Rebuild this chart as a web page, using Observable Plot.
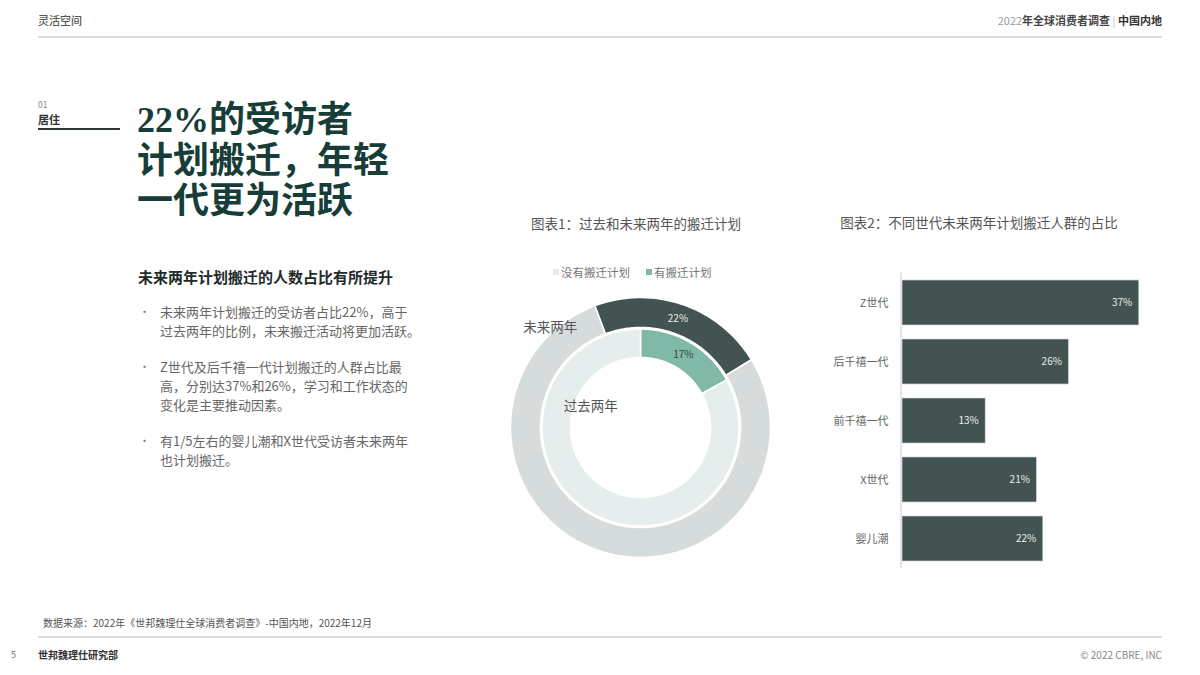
<!DOCTYPE html>
<html>
<head>
<meta charset="utf-8">
<script src="https://cdn.jsdelivr.net/npm/d3@7"></script>
<script src="https://cdn.jsdelivr.net/npm/@observablehq/plot@0.6"></script>
<style>
  html, body { margin: 0; padding: 0; }
  body { width: 1200px; height: 675px; background: #fff; position: relative; overflow: hidden;
         font-family: "Noto Sans CJK SC", "Noto Sans", sans-serif; color: #444; }
  .abs { position: absolute; white-space: nowrap; }
  .hline { position: absolute; height: 2px; background: #dcdce0; }
  #title { left: 137px; top: 100px; font-size: 36px; line-height: 40.5px; font-weight: 700; color: #173d38;
           font-family: "Liberation Serif", "Noto Sans CJK SC", serif; }
  #sub { left: 138px; top: 266px; font-size: 15px; line-height: 22px; font-weight: 700; color: #1e2b2a; }
  #bullets { left: 143px; top: 302px; font-size: 13px; line-height: 19px; color: #666; }
  #bullets .p { position: relative; padding-left: 17px; margin-bottom: 17px; }
  #bullets .p::before { content: "•"; position: absolute; left: -4px; top: 0; color: #777; font-size: 11px; }
  .ctitle { font-size: 13.5px; line-height: 20px; color: #555; transform: translateX(-50%); }
  #legend { left: 553px; top: 263px; font-size: 11.5px; line-height: 18px; color: #777; display: flex; align-items: center; }
  #legend .sw { display: inline-block; width: 6px; height: 6px; margin-right: 2px; }
  #legend .item { display: flex; align-items: center; margin-right: 16px; }
</style>
</head>
<body>
<div class="abs" style="left:38px; top:12px; font-size:11px; line-height:16px; color:#555; font-weight:500;">灵活空间</div>
<div class="abs" style="right:38px; top:12px; font-size:11px; line-height:16px;">
  <span style="color:#999;">2022</span><span style="color:#444; font-weight:700;">年全球消费者调查</span><span style="color:#bbb;"> | </span><span style="color:#333; font-weight:700;">中国内地</span>
</div>
<div class="hline" style="left:38px; width:1124px; top:36px;"></div>

<div class="abs" style="left:38px; top:98px; font-size:8.5px; line-height:12px; color:#888;">01</div>
<div class="abs" style="left:38px; top:112px; font-size:11px; line-height:15px; color:#333; font-weight:700;">居住</div>
<div class="abs" style="left:38px; top:128px; width:82px; height:1.5px; background:#2c3836;"></div>

<div id="title" class="abs">22%的受访者<br>计划搬迁，年轻<br>一代更为活跃</div>

<div id="sub" class="abs">未来两年计划搬迁的人数占比有所提升</div>
<div id="bullets" class="abs">
  <div class="p">未来两年计划搬迁的受访者占比22%，高于<br>过去两年的比例，未来搬迁活动将更加活跃。</div>
  <div class="p">Z世代及后千禧一代计划搬迁的人群占比最<br>高，分别达37%和26%，学习和工作状态的<br>变化是主要推动因素。</div>
  <div class="p">有1/5左右的婴儿潮和X世代受访者未来两年<br>也计划搬迁。</div>
</div>

<div class="abs ctitle" style="left:636px; top:213px;">图表1：过去和未来两年的搬迁计划</div>
<div class="abs ctitle" style="left:979px; top:212px;">图表2：不同世代未来两年计划搬迁人群的占比</div>

<div id="legend" class="abs"></div>
<div id="donut" class="abs" style="left:490px; top:277px;"></div>
<div id="bars" class="abs" style="left:820px; top:265px;"></div>

<div class="abs" style="left:43px; top:615px; font-size:10px; line-height:16px; color:#555;">数据来源：2022年《世邦魏理仕全球消费者调查》-中国内地，2022年12月</div>
<div class="hline" style="left:38px; width:1124px; top:636px;"></div>
<div class="abs" style="left:11px; top:647px; font-size:9px; line-height:15px; color:#666;">5</div>
<div class="abs" style="left:38px; top:647px; font-size:10px; line-height:15px; color:#333; font-weight:700;">世邦魏理仕研究部</div>
<div class="abs" style="right:38px; top:647px; font-size:10px; line-height:15px; color:#888;">© 2022 CBRE, INC</div>

<script>
// ---------- data ----------
const ringNames = ["未来两年", "过去两年"];
const statusNames = ["有搬迁计划", "没有搬迁计划"];
const futureShare = [22, 78];   // 有 / 没有
const pastShare = [17, 83];     // 有 / 没有
const legendOrder = ["没有搬迁计划", "有搬迁计划"];

const generations = ["Z世代", "后千禧一代", "前千禧一代", "X世代", "婴儿潮"];
const generationShare = [37, 26, 13, 21, 22];

// ---------- styles ----------
const FONT = '"Noto Sans CJK SC", "Noto Sans", sans-serif';
const segColors = {
  "未来两年|有搬迁计划": "#435351",
  "未来两年|没有搬迁计划": "#d5dcdb",
  "过去两年|有搬迁计划": "#80b9a7",
  "过去两年|没有搬迁计划": "#e5eded"
};
const legendColors = {"没有搬迁计划": "#e5eded", "有搬迁计划": "#80b9a7"};
const ringGeom = {
  "未来两年": {r0: 100, r1: 130, start: -20.6},
  "过去两年": {r0: 70, r1: 98.5, start: 0}
};
const ringLabelPolar = {"未来两年": {angle: -42, r: 135}, "过去两年": {angle: -67, r: 54}};
const rad = Math.PI / 180;

// ---------- legend ----------
const lg = document.getElementById("legend");
legendOrder.forEach(name => {
  const it = document.createElement("span");
  it.className = "item";
  it.innerHTML = `<span class="sw" style="background:${legendColors[name]}"></span>${name}`;
  lg.appendChild(it);
});

// ---------- donut ----------
const segments = [];
ringNames.forEach((ring, i) => {
  const vals = i === 0 ? futureShare : pastShare;
  const total = d3.sum(vals);
  let acc = 0;
  vals.forEach((v, j) => {
    const g = ringGeom[ring];
    const a0 = g.start + acc / total * 360;
    acc += v;
    const a1 = g.start + acc / total * 360;
    segments.push({ring, status: statusNames[j], key: ring + "|" + statusNames[j], value: v, a0, a1, r0: g.r0, r1: g.r1});
  });
});
const pts = segments.flatMap((s, k) => {
  const n = Math.max(2, Math.ceil(s.a1 - s.a0));
  const angles = d3.range(n + 1).map(i => s.a0 + (s.a1 - s.a0) * i / n);
  return [
    ...angles.map(a => ({k, key: s.key, a, r: s.r1})),
    ...angles.slice().reverse().map(a => ({k, key: s.key, a, r: s.r0}))
  ];
});
const px = (a, r) => r * Math.sin(a * rad);
const py = (a, r) => r * Math.cos(a * rad);
const midX = s => px((s.a0 + s.a1) / 2, (s.r0 + s.r1) / 2);
const midY = s => py((s.a0 + s.a1) / 2, (s.r0 + s.r1) / 2);
const planSegs = segments.filter(s => s.status === "有搬迁计划");

const donut = Plot.plot({
  width: 300, height: 300, margin: 0,
  style: {fontFamily: FONT, background: "transparent"},
  x: {domain: [-150, 150], axis: null},
  y: {domain: [-150, 150], axis: null},
  color: {domain: Object.keys(segColors), range: Object.values(segColors)},
  marks: [
    Plot.line(pts, {x: d => px(d.a, d.r), y: d => py(d.a, d.r), z: "k", fill: "key",
      stroke: "white", strokeWidth: 1.6, curve: "linear-closed"}),
    Plot.text(planSegs.filter(s => s.ring === "未来两年"), {x: midX, y: midY, text: d => d.value + "%",
      fill: "#e9eded", fontSize: 10}),
    Plot.text(planSegs.filter(s => s.ring === "过去两年"), {x: midX, y: midY, text: d => d.value + "%",
      fill: "#364543", fontSize: 10}),
    Plot.text(ringNames, {x: d => px(ringLabelPolar[d].angle, ringLabelPolar[d].r),
      y: d => py(ringLabelPolar[d].angle, ringLabelPolar[d].r), text: d => d,
      fill: "#555", fontSize: 13.5})
  ]
});
document.getElementById("donut").appendChild(donut);

// ---------- bars ----------
const barData = generations.map((g, i) => ({gen: g, value: generationShare[i]}));
const bars = Plot.plot({
  width: 350, height: 311,
  marginLeft: 82, marginRight: 12, marginTop: 7, marginBottom: 7.5,
  style: {fontFamily: FONT, background: "transparent"},
  x: {domain: [0, 40], axis: null},
  y: {domain: generations, paddingInner: 0.24, paddingOuter: 0.12},
  marks: [
    Plot.ruleX([0], {stroke: "#dcdfdf", strokeWidth: 1.5, dx: -1.5}),
    Plot.barX(barData, {x: "value", y: "gen", fill: "#435351", stroke: "#cdd4d3", strokeWidth: 0.7}),
    Plot.text(barData, {x: "value", y: "gen", text: d => d.value + "%", dx: -7, textAnchor: "end",
      fill: "#e9eded", fontSize: 10}),
    Plot.axisY({label: null, tickSize: 0, tickPadding: 14, fontSize: 11, color: "#666"})
  ]
});
document.getElementById("bars").appendChild(bars);
</script>
</body>
</html>
